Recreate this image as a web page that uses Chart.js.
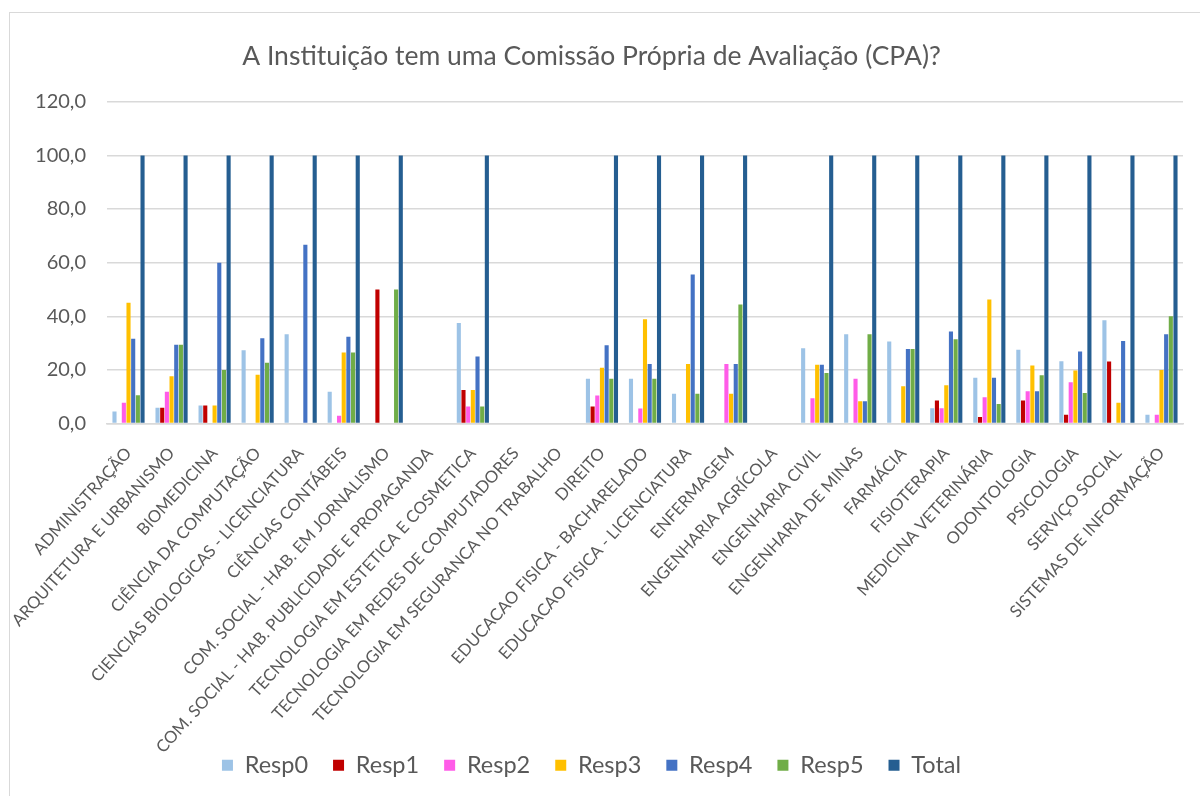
<!DOCTYPE html>
<html>
<head>
<meta charset="utf-8">
<script src="https://cdn.jsdelivr.net/npm/chart.js@4.4.1/dist/chart.umd.min.js"></script>
<style>
    html, body { margin: 0; padding: 0; background: #fff; overflow: hidden; }
    #wrap { position: relative; width: 1200px; height: 796px; }
    #frame {
        position: absolute; left: 9px; top: 12px; width: 1300px; height: 900px;
        border-left: 1px solid #d9d9d9; border-top: 1px solid #d9d9d9;
        pointer-events: none;
    }
</style>
</head>
<body>
<div id="wrap">
    <canvas id="myChart" width="1200" height="796"></canvas>
    <div id="frame"></div>
</div>
<script>
// D A T A
const categories = [
    "ADMINISTRAÇÃO",
    "ARQUITETURA E URBANISMO",
    "BIOMEDICINA",
    "CIÊNCIA DA COMPUTAÇÃO",
    "CIENCIAS BIOLOGICAS - LICENCIATURA",
    "CIÊNCIAS CONTÁBEIS",
    "COM. SOCIAL - HAB. EM JORNALISMO",
    "COM. SOCIAL - HAB. PUBLICIDADE E PROPAGANDA",
    "TECNOLOGIA EM ESTETICA E COSMETICA",
    "TECNOLOGIA EM REDES DE COMPUTADORES",
    "TECNOLOGIA EM SEGURANCA NO TRABALHO",
    "DIREITO",
    "EDUCACAO FISICA - BACHARELADO",
    "EDUCACAO FISICA - LICENCIATURA",
    "ENFERMAGEM",
    "ENGENHARIA AGRÍCOLA",
    "ENGENHARIA CIVIL",
    "ENGENHARIA DE MINAS",
    "FARMÁCIA",
    "FISIOTERAPIA",
    "MEDICINA VETERINÁRIA",
    "ODONTOLOGIA",
    "PSICOLOGIA",
    "SERVIÇO SOCIAL",
    "SISTEMAS DE INFORMAÇÃO",
];

const resp0 = [4.5, 5.9, 6.7, 27.3, 33.3, 11.8, 0, 0, 37.5, 0, 0, 16.7, 16.7, 11.1, 0, 0, 28.1, 33.3, 30.6, 5.7, 17.1, 27.5, 23.2, 38.5, 3.3];
const resp1 = [0, 5.9, 6.7, 0, 0, 0, 50.0, 0, 12.5, 0, 0, 6.3, 0, 0, 0, 0, 0, 0, 0, 8.6, 2.4, 8.6, 3.3, 23.1, 0];
const resp2 = [7.7, 11.8, 0, 0, 0, 2.9, 0, 0, 6.3, 0, 0, 10.4, 5.6, 0, 22.2, 0, 9.4, 16.7, 0, 5.7, 9.8, 12.0, 15.4, 0, 3.3];
const resp3 = [45.0, 17.6, 6.7, 18.2, 0, 26.5, 0, 0, 12.5, 0, 0, 20.8, 38.9, 22.2, 11.1, 0, 21.9, 8.3, 13.9, 14.3, 46.3, 21.6, 19.8, 7.7, 20.0];
const resp4 = [31.6, 29.4, 60.0, 31.8, 66.7, 32.4, 0, 0, 25.0, 0, 0, 29.2, 22.2, 55.6, 22.2, 0, 21.9, 8.3, 27.8, 34.3, 17.1, 12.0, 26.9, 30.8, 33.3];
const resp5 = [10.5, 29.4, 20.0, 22.7, 0, 26.5, 50.0, 0, 6.3, 0, 0, 16.7, 16.7, 11.1, 44.4, 0, 18.8, 33.3, 27.8, 31.4, 7.3, 18.0, 11.4, 0, 40.0];
const total = [100, 100, 100, 100, 100, 100, 100, 0, 100, 0, 0, 100, 100, 100, 100, 0, 100, 100, 100, 100, 100, 100, 100, 100, 100];

const seriesNames = ["Resp0", "Resp1", "Resp2", "Resp3", "Resp4", "Resp5", "Total"];
const seriesValues = [resp0, resp1, resp2, resp3, resp4, resp5, total];
const seriesColors = ["#9dc3e6", "#c00000", "#ff5ce8", "#ffc000", "#4472c4", "#70ad47", "#255e91"];

const yTicks = [0, 20, 40, 60, 80, 100, 120];

// G R A F
const FONT = "Lato, 'Open Sans', sans-serif";
const GREY = "#595959";

Chart.defaults.font.family = FONT;
Chart.defaults.color = GREY;

// dolge oznake na x osi se ne smejo odrezati na spodnjem robu osi
const unclipLabels = {
    id: "unclipLabels",
    beforeDraw(chart) {
        chart.scales.x.bottom = chart.height;
    },
};

const ctx = document.getElementById("myChart");

new Chart(ctx, {
    type: "bar",
    data: {
        labels: categories,
        datasets: seriesNames.map((name, i) => ({
            label: name,
            data: seriesValues[i],
            backgroundColor: seriesColors[i],
            borderWidth: 0,
            categoryPercentage: 0.76,
            barPercentage: 0.88,
        })),
    },
    options: {
        responsive: false,
        animation: false,
        layout: {
            padding: { left: 0, right: 17, top: 0, bottom: 9 },
        },
        plugins: {
            title: {
                display: true,
                text: "A Instituição tem uma Comissão Própria de Avaliação (CPA)?",
                color: GREY,
                font: { size: 26.5, weight: "normal" },
                padding: { top: 41, bottom: 29 },
            },
            legend: {
                display: true,
                position: "bottom",
                labels: {
                    boxWidth: 11,
                    boxHeight: 11,
                    color: GREY,
                    font: { size: 23.5 },
                    padding: 25,
                },
            },
            tooltip: { enabled: false },
        },
        scales: {
            x: {
                grid: { display: false },
                border: { display: true, color: "#d9d9d9", width: 1.5 },
                ticks: {
                    color: GREY,
                    font: { size: 16.7 },
                    minRotation: 48,
                    maxRotation: 48,
                    autoSkip: false,
                    padding: 12,
                },
                afterFit: (scale) => {
                    scale.height = 305;
                },
            },
            y: {
                min: 0,
                max: 120,
                afterBuildTicks: (scale) => {
                    scale.ticks = yTicks.map((v) => ({ value: v }));
                },
                grid: { color: "#d9d9d9", lineWidth: 1.5, drawTicks: false },
                border: { display: false },
                ticks: {
                    color: GREY,
                    font: { size: 20 },
                    padding: 21,
                    callback: (v) => v.toFixed(1).replace(".", ","),
                },
                afterFit: (scale) => {
                    scale.width = 107;
                },
            },
        },
    },
    plugins: [unclipLabels],
});
</script>
</body>
</html>
